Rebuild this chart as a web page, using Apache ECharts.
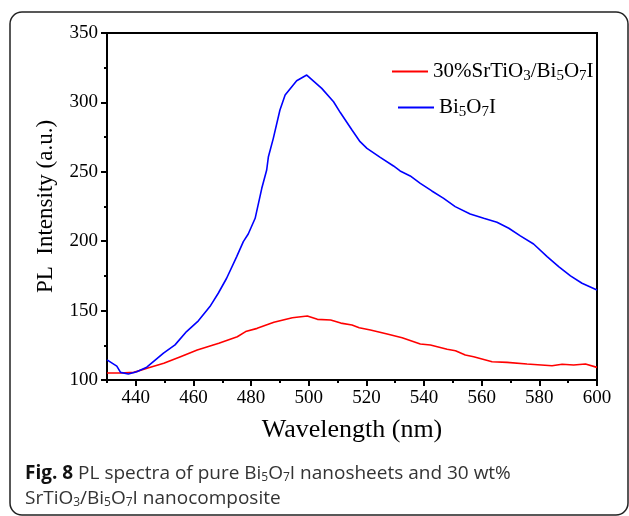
<!DOCTYPE html>
<html>
<head>
<meta charset="utf-8">
<script src="https://cdn.jsdelivr.net/npm/echarts@6/dist/echarts.min.js"></script>
<style>
  html, body { margin: 0; padding: 0; background: #fff; }
  #chart { width: 629px; height: 516px; }
</style>
</head>
<body>
<div id="chart"></div>
<script>
// PL emission spectra (wavelength in nm, intensity in a.u.)
const pureWavelength = [430, 433.4, 434.7, 437.4, 440.3, 443.8, 449.6, 453.6, 457.6, 461.7, 465.7, 468.6,
  471.5, 475, 477.3, 479, 481.4, 483.7, 485.4, 486, 487.7, 490, 491.8, 495.8, 499.3, 504.5, 508.6, 511,
  515, 517.8, 520.2, 524.8, 529.4, 531.7, 535.2, 538.7, 542.7, 546.8, 550.8, 556, 560.7, 565.3, 569.4,
  573.4, 578, 582.7, 586.7, 590.8, 594.8, 600];
const pureIntensity = [114.5, 110, 105.5, 104.3, 106, 109.2, 119.3, 125.3, 134.9, 142.6, 152.9, 162.5,
  173.3, 188.9, 199.7, 205.2, 216.5, 238.1, 251.3, 260.9, 274.1, 294.5, 305.3, 315.6, 319.7, 310.1, 300.5, 292.5,
  280.1, 271.7, 266.9, 260.4, 254.2, 250.6, 247, 241.7, 236.2, 230.9, 224.9, 219.6, 216.5, 213.6, 209.3,
  203.8, 198, 188.9, 181.7, 175, 169.7, 164.9];

const compositeWavelength = [430, 434.6, 439.3, 443.9, 449.7, 455.5, 461.3, 468.8, 475.2, 478.1, 482.1,
  487.9, 494.3, 499.5, 503, 507.6, 511.1, 515, 517.5, 521.4, 527.2, 532.4, 538.7, 542.2, 548, 550.9,
  554.3, 557.2, 563.6, 568.8, 575.7, 584.4, 587.9, 591.9, 596, 600];
const compositeIntensity = [105, 105, 105.5, 108.4, 112, 116.8, 121.6, 126.4, 131.2, 134.9, 137.2,
  141.6, 144.9, 146.1, 143.7, 143.2, 141, 139.6, 137.7, 136, 133.1, 130.5, 125.9, 125.2, 122.1, 121.1,
  118, 116.8, 113.2, 112.7, 111.5, 110.3, 111.3, 110.8, 111.5, 109.1];

const seriesNames = ['30%SrTiO3/Bi5O7I', 'Bi5O7I'];
const seriesLabels = ['30%SrTiO{s|3}/Bi{s|5}O{s|7}I', 'Bi{s|5}O{s|7}I'];

const xMajorTicks = [440, 460, 480, 500, 520, 540, 560, 580, 600];
const xMinorTicks = [430, 450, 470, 490, 510, 530, 550, 570, 590];

const serif = '"Liberation Serif", "Times New Roman", serif';
const sans = '"Open Sans", "Noto Sans", sans-serif';

function zip(xs, ys) { return xs.map((x, i) => [x, ys[i]]); }

const legendText = {
  fontFamily: serif, fontSize: 21, color: '#000',
  rich: { s: { fontFamily: serif, fontSize: 15, color: '#000', padding: [9, 0, 0, 0] } }
};

const chart = echarts.init(document.getElementById('chart'), null, { renderer: 'canvas' });
chart.setOption({
  animation: false,
  backgroundColor: '#fff',
  grid: { left: 107, right: 32, top: 33, bottom: 136, show: true, borderColor: '#000', borderWidth: 2, backgroundColor: 'transparent' },
  legend: [
    { data: [seriesNames[0]], left: 387, top: 56, itemWidth: 36, itemHeight: 2, icon: 'rect',
      formatter: () => seriesLabels[0], textStyle: legendText },
    { data: [seriesNames[1]], left: 393, top: 92, itemWidth: 36, itemHeight: 2, icon: 'rect',
      formatter: () => seriesLabels[1], textStyle: legendText }
  ],
  xAxis: [
    {
      type: 'value', min: 430, max: 600, position: 'bottom',
      name: 'Wavelength (nm)', nameLocation: 'middle', nameGap: 37,
      nameTextStyle: { fontFamily: serif, fontSize: 26, color: '#000' },
      axisLine: { lineStyle: { color: '#000', width: 2 } },
      axisTick: { customValues: xMajorTicks, length: 6, lineStyle: { color: '#000', width: 2 } },
      axisLabel: { customValues: xMajorTicks, fontFamily: serif, fontSize: 19, color: '#000', margin: 9 },
      splitLine: { show: false }
    },
    {
      type: 'value', min: 430, max: 600, position: 'bottom',
      axisLine: { show: false },
      axisTick: { customValues: xMinorTicks, length: 3, lineStyle: { color: '#000', width: 2 } },
      axisLabel: { show: false },
      splitLine: { show: false }
    }
  ],
  yAxis: {
    type: 'value', min: 100, max: 350, interval: 50,
    name: 'PL  Intensity (a.u.)', nameLocation: 'middle', nameGap: 50,
    nameTextStyle: { fontFamily: serif, fontSize: 23, color: '#000' },
    axisLine: { show: true, lineStyle: { color: '#000', width: 2 } },
    axisTick: { show: true, length: 6, lineStyle: { color: '#000', width: 2 } },
    minorTick: { show: true, splitNumber: 2, length: 3, lineStyle: { color: '#000', width: 2 } },
    axisLabel: { fontFamily: serif, fontSize: 19, color: '#000', margin: 9 },
    splitLine: { show: false },
    minorSplitLine: { show: false }
  },
  series: [
    { name: seriesNames[0], type: 'line', symbol: 'none', xAxisIndex: 0,
      data: zip(compositeWavelength, compositeIntensity),
      lineStyle: { color: '#ff0000', width: 1.6 }, itemStyle: { color: '#ff0000' } },
    { name: seriesNames[1], type: 'line', symbol: 'none', xAxisIndex: 0,
      data: zip(pureWavelength, pureIntensity),
      lineStyle: { color: '#0000ff', width: 1.6 }, itemStyle: { color: '#0000ff' } }
  ],
  graphic: [
    { type: 'rect', silent: true,
      shape: { x: 10, y: 12, width: 618, height: 503, r: 12 },
      style: { fill: 'none', stroke: '#222', lineWidth: 1.5 } },
    { type: 'text', left: 25, top: 464, silent: true,
      style: {
        text: '{b|Fig. 8} PL spectra of pure Bi{s|5}O{s|7}I nanosheets and 30 wt%',
        font: '19px ' + sans, fill: '#333',
        rich: {
          b: { fontFamily: sans, fontSize: 19, fontWeight: 'bold', fill: '#111' },
          s: { fontFamily: sans, fontSize: 12, fill: '#333', padding: [8, 0, 0, 0] }
        }
      } },
    { type: 'text', left: 25, top: 489, silent: true,
      style: {
        text: 'SrTiO{s|3}/Bi{s|5}O{s|7}I nanocomposite',
        font: '19px ' + sans, fill: '#333',
        rich: {
          s: { fontFamily: sans, fontSize: 12, fill: '#333', padding: [8, 0, 0, 0] }
        }
      } }
  ]
});
</script>
</body>
</html>
